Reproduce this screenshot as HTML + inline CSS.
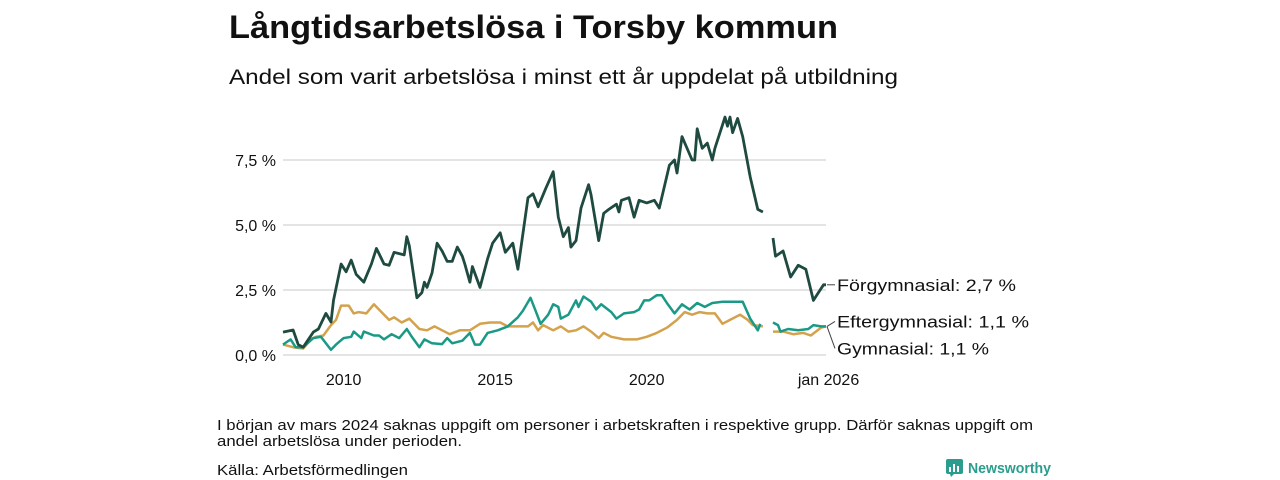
<!DOCTYPE html>
<html><head><meta charset="utf-8"><style>
html,body{margin:0;padding:0;background:#fff;}
svg{display:block;font-family:"Liberation Sans","DejaVu Sans",sans-serif;}
</style></head><body>
<svg id="chart" width="1280" height="480" viewBox="0 0 1280 480" xmlns="http://www.w3.org/2000/svg">
<text x="229" y="38" font-size="32" font-weight="bold" fill="#111" textLength="609" lengthAdjust="spacingAndGlyphs">Långtidsarbetslösa i Torsby kommun</text>
<text x="229" y="84" font-size="21" fill="#111" textLength="669" lengthAdjust="spacingAndGlyphs">Andel som varit arbetslösa i minst ett år uppdelat på utbildning</text>
<g id="grid"></g>
<g id="yticks"></g>
<g id="xticks"></g>
<g id="series"></g>
<g id="labels"></g>
<text x="217" y="430" font-size="15" fill="#111" textLength="816" lengthAdjust="spacingAndGlyphs">I början av mars 2024 saknas uppgift om personer i arbetskraften i respektive grupp. Därför saknas uppgift om</text>
<text x="217" y="446" font-size="15" fill="#111" textLength="245" lengthAdjust="spacingAndGlyphs">andel arbetslösa under perioden.</text>
<text x="217" y="475" font-size="15" fill="#111" textLength="191" lengthAdjust="spacingAndGlyphs">Källa: Arbetsförmedlingen</text>
<g>
<rect x="946" y="459" width="17" height="15" rx="2" fill="#2a9d8f"/>
<path d="M951 477 l3 -3 h-4z" fill="#2a9d8f"/>
<rect x="949" y="467" width="2" height="5" fill="#fff"/><rect x="953" y="464" width="2" height="8" fill="#fff"/><rect x="957" y="466" width="2" height="6" fill="#fff"/>
<text x="968" y="473" font-size="15" font-weight="bold" fill="#2a9d8f" textLength="83" lengthAdjust="spacingAndGlyphs">Newsworthy</text>
</g>
</svg>
<script>
// months since Jan 2008, values in percent
const forgMonths=[0,4,6,8,12,14,17,19,20,23,25,27,29,32,35,37,38,40,42,44,48,49,50,53,55,56,57,59,61,63,65,67,69,71,72,74,75,78,81,83,86,88,91,93,97,99,101,104,107,109,111,113,114,116,118,121,122,125,127,129,132,133,134,137,139,141,144,147,149,153,155,156,158,162,163,164,166,168,170,171,174,175,176,177,178,180,182,185,188,190,null,194,195,198,201,204,207,210,212,214,215];
const forgValues=[0.88,0.96,0.4,0.3,0.88,1.0,1.6,1.27,2.1,3.5,3.2,3.65,3.1,2.8,3.5,4.1,3.9,3.5,3.45,3.95,3.85,4.55,4.2,2.2,2.4,2.8,2.6,3.15,4.3,4.0,3.6,3.6,4.15,3.8,3.5,2.8,3.4,2.6,3.7,4.3,4.7,3.95,4.3,3.3,6.05,6.2,5.7,6.4,7.05,5.3,4.55,4.9,4.15,4.4,5.65,6.55,6.15,4.4,5.45,5.6,5.8,5.5,5.95,6.05,5.3,5.95,5.85,5.95,5.65,7.3,7.5,7.0,8.4,7.5,7.5,8.7,7.95,8.15,7.5,7.95,8.85,9.15,8.8,9.15,8.55,9.1,8.4,6.85,5.6,5.5,null,4.5,3.8,4.0,3.0,3.45,3.3,2.1,2.4,2.7,2.7];
const efterMonths=[0,3,5,8,12,15,17,19,21,24,27,28,31,32,36,38,40,43,46,49,51,54,56,59,63,65,67,71,74,76,78,81,85,89,93,95,98,100,102,105,107,109,110,113,116,117,119,122,124,126,130,132,135,139,141,143,145,148,150,152,155,158,161,164,167,170,174,178,182,185,188,189,null,194,196,197,200,204,208,210,213,215];
const efterValues=[0.4,0.6,0.3,0.3,0.65,0.7,0.45,0.2,0.4,0.65,0.7,0.9,0.65,0.9,0.75,0.75,0.6,0.8,0.65,1.0,0.7,0.3,0.6,0.45,0.42,0.65,0.45,0.55,0.85,0.4,0.4,0.85,0.95,1.1,1.45,1.7,2.2,1.7,1.2,1.55,1.95,1.85,1.4,1.55,2.1,1.85,2.25,2.05,1.75,1.95,1.65,1.4,1.6,1.65,1.75,2.1,2.1,2.3,2.3,2.0,1.6,1.95,1.75,2.0,1.85,2.0,2.05,2.05,2.05,1.4,0.95,1.2,null,1.25,1.15,0.9,1.0,0.95,1.0,1.15,1.1,1.1];
const gymMonths=[0,4,8,11,13,16,19,21,23,26,28,30,33,36,39,42,44,47,50,54,57,60,63,66,70,74,78,82,86,89,93,97,99,101,103,107,110,113,116,119,122,125,127,130,135,140,144,148,152,156,159,162,165,168,171,174,177,181,184,186,190,null,194,198,202,206,209,213,215];
const gymValues=[0.4,0.3,0.25,0.6,0.7,0.75,1.15,1.35,1.9,1.9,1.6,1.65,1.6,1.95,1.65,1.35,1.45,1.25,1.4,1.0,0.95,1.1,0.95,0.8,0.95,0.95,1.2,1.25,1.25,1.1,1.1,1.1,1.25,0.95,1.15,0.95,1.1,0.9,0.95,1.1,0.9,0.65,0.85,0.7,0.6,0.6,0.7,0.85,1.05,1.35,1.65,1.55,1.65,1.6,1.6,1.2,1.35,1.55,1.35,1.15,1.1,null,0.9,0.9,0.8,0.85,0.75,1.05,1.1];
const yTicks=[0,2.5,5,7.5];
const yTickLabels=["0,0 %","2,5 %","5,0 %","7,5 %"];
const xTickMonths=[24,84,144,216];
const xTickLabels=["2010","2015","2020","jan 2026"];
const seriesNames=["Förgymnasial: 2,7 %","Eftergymnasial: 1,1 %","Gymnasial: 1,1 %"];

const NS="http://www.w3.org/2000/svg";
const X0=283,X1=826,M1=215,Y0=355,PPU=26;
function xs(m){return X0+(m/M1)*(X1-X0);}
function ys(v){return Y0-v*PPU;}
function mk(tag,attrs,parent){const e=document.createElementNS(NS,tag);for(const k in attrs)e.setAttribute(k,attrs[k]);parent.appendChild(e);return e;}

const grid=document.getElementById('grid'),yt=document.getElementById('yticks'),xt=document.getElementById('xticks');
yTicks.forEach((v,i)=>{
  const l=mk('line',{x1:X0,x2:X1,y1:ys(v),y2:ys(v),stroke:'#dcdcdc','stroke-width':1.5},grid);
  
  
  const t=mk('text',{x:276,y:ys(v)+6,'font-size':16,'text-anchor':'end',fill:'#111'},yt);
  t.textContent=yTickLabels[i];
  
  
});
xTickMonths.forEach((m,i)=>{
  const t=mk('text',{x:xs(m),y:385,'font-size':16,'text-anchor':'middle',fill:'#111'},xt);
  t.textContent=xTickLabels[i];
  
  
});
function path(ms,vs){let d='',pen=false;for(let i=0;i<ms.length;i++){if(ms[i]===null||vs[i]===null){pen=false;continue;}d+=(pen?'L':'M')+xs(ms[i]).toFixed(1)+' '+ys(vs[i]).toFixed(1);pen=true;}return d;}
const sg=document.getElementById('series');
const g1=mk('path',{d:path(gymMonths,gymValues),fill:'none',stroke:'#d4a24c','stroke-width':2.5,'stroke-linejoin':'round'},sg);


const e1=mk('path',{d:path(efterMonths,efterValues),fill:'none',stroke:'#1a9a86','stroke-width':2.5,'stroke-linejoin':'round'},sg);


const f1=mk('path',{d:path(forgMonths,forgValues),fill:'none',stroke:'#1e4a40','stroke-width':2.8,'stroke-linejoin':'round'},sg);



const lg=document.getElementById('labels');
const lastF=forgValues[forgValues.length-1],lastE=efterValues[efterValues.length-1],lastG=gymValues[gymValues.length-1];
const labY=[ys(lastF),ys(lastE)-5,ys(lastG)+22];
const srcY=[ys(lastF),ys(lastE),ys(lastG)];
const widths=[179,192,152];
seriesNames.forEach((n,i)=>{
  const ln=mk('line',{x1:X1+1,y1:srcY[i],x2:835,y2:labY[i],stroke:'#444','stroke-width':1},lg);
  
  
  const t=mk('text',{x:837,y:labY[i]+6,'font-size':17,fill:'#111',textLength:widths[i],lengthAdjust:'spacingAndGlyphs'},lg);
  t.textContent=n;
  
  
});
</script>
</body></html>
